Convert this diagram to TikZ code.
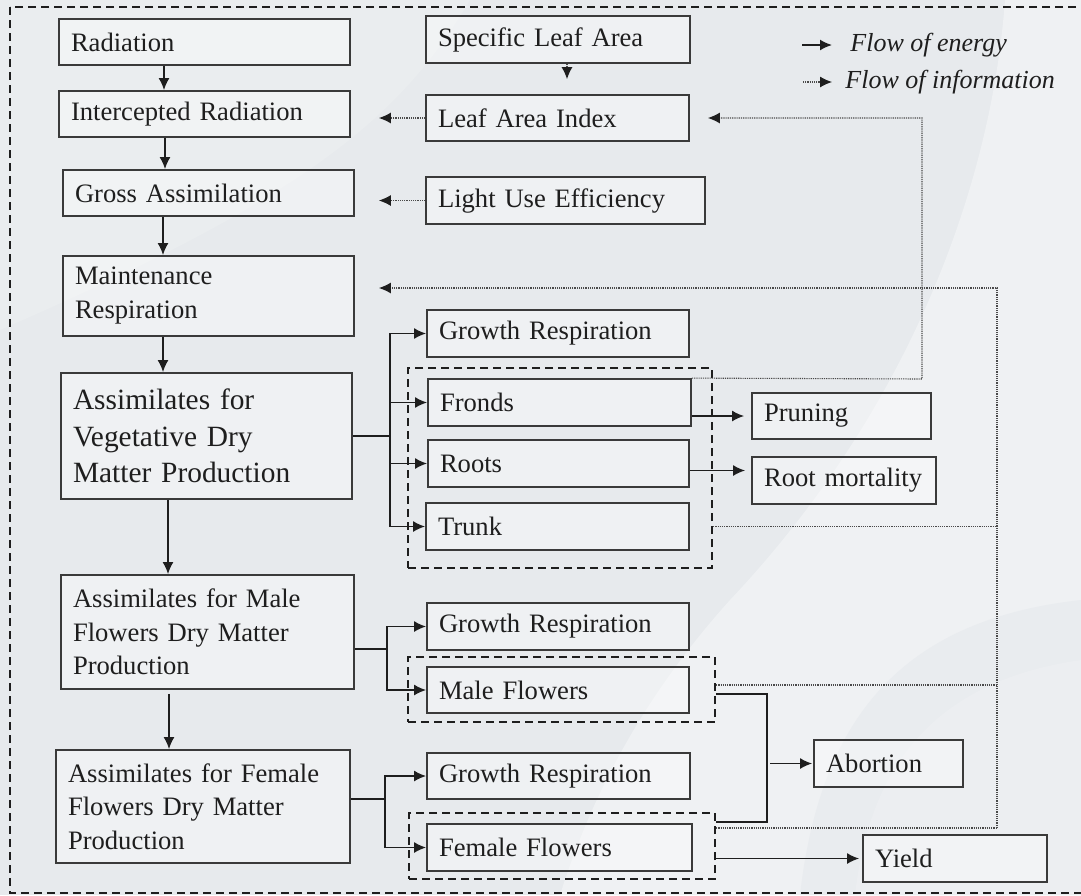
\documentclass[tikz,border=0pt]{standalone}
\usepackage{fontspec}
\setmainfont{Liberation Serif}
\usetikzlibrary{arrows.meta,calc}
\definecolor{bg}{HTML}{E7EAED}
\definecolor{bglight}{HTML}{EFF1F3}
\definecolor{boxline}{HTML}{3A3A3A}
\definecolor{ink}{HTML}{1E1E1E}
\definecolor{infoc}{HTML}{4A4A4A}
\tikzset{
  box/.style={draw=boxline, line width=0.9pt, fill=white, fill opacity=0.35, text opacity=1,
    inner xsep=6pt, inner ysep=0pt, align=left, font=\fontsize{13.3pt}{17pt}\selectfont, text=ink},
  grpframe/.style={draw=ink, line width=1.1pt, dash pattern=on 4pt off 2.5pt},
  eline/.style={draw=ink, line width=0.85pt},
  energy/.style={eline, -{Latex[length=6pt,width=5.5pt]}},
  iline/.style={draw=infoc, line width=0.55pt, dash pattern=on 0.6pt off 0.5pt},
  info/.style={iline, -{Latex[length=6pt,width=5.5pt,color=ink]}},
  legtext/.style={font=\fontsize{13pt}{15pt}\selectfont\itshape, text=ink, inner sep=0pt, anchor=west},
}
\begin{document}
\begin{tikzpicture}[x=0.5pt, y=-0.5pt]
\useasboundingbox (0,0) rectangle (1081,895);
% background
\fill[bg] (0,0) rectangle (1081,895);
\fill[bglight] (1005,0) .. controls (990,200) and (900,420) .. (730,600) .. controls (640,700) and (590,800) .. (560,895) -- (1081,895) -- (1081,0) -- cycle;
\fill[bg!60!bglight] (0,0) -- (470,0) .. controls (400,120) and (300,200) .. (0,330) -- cycle;
\fill[bg!70!bglight] (1081,600) .. controls (900,620) and (820,720) .. (800,895) -- (1081,895) -- cycle;
\fill[bglight!60!bg] (1081,660) .. controls (940,680) and (870,760) .. (855,895) -- (1081,895) -- cycle;

% outer frame
\draw[grpframe] (10,7) rectangle (1100,893);

% left column
\node[box, minimum width=145.5pt, minimum height=23pt, text width=133.5pt] (rad) at (204.5,42) {Radiation};
\node[box, minimum width=145.5pt, minimum height=23pt, text width=133.5pt] (intr) at (204.5,114) {Intercepted Radiation};
\node[box, minimum width=145.5pt, minimum height=23pt, text width=133.5pt] (gross) at (208.5,193) {Gross Assimilation};
\node[box, minimum width=145.5pt, minimum height=40pt, text width=133.5pt] (maint) at (208.5,296) {Maintenance\\Respiration};
\node[box, minimum width=145.5pt, minimum height=63pt, text width=133.5pt, font=\fontsize{14.7pt}{18.3pt}\selectfont] (veg) at (206.5,436) {Assimilates for\\Vegetative Dry\\Matter Production};
\node[box, minimum width=146.5pt, minimum height=57pt, text width=134.5pt, font=\fontsize{13.3pt}{16.7pt}\selectfont] (male) at (207.5,632) {Assimilates for Male\\Flowers Dry Matter\\Production};
\node[box, minimum width=147pt, minimum height=56.5pt, text width=135pt, font=\fontsize{13.3pt}{16.7pt}\selectfont] (female) at (203,806.5) {Assimilates for Female\\Flowers Dry Matter\\Production};

% right column
\node[box, minimum width=132pt, minimum height=23.5pt, text width=120pt] (sla) at (558,39.5) {Specific Leaf Area};
\node[box, minimum width=131.5pt, minimum height=23pt, text width=119.5pt] (lai) at (557.5,118) {Leaf Area Index};
\node[box, minimum width=139.5pt, minimum height=23.5pt, text width=127.5pt] (lue) at (565.5,200.5) {Light Use Efficiency};
\node[box, minimum width=131pt, minimum height=23.5pt, text width=119pt] (gr1) at (558,333.5) {Growth Respiration};
\node[box, minimum width=131.5pt, minimum height=23.5pt, text width=119.5pt] (fronds) at (559.5,402.5) {Fronds};
\node[box, minimum width=130.5pt, minimum height=23.5pt, text width=118.5pt] (roots) at (558.5,463.5) {Roots};
\node[box, minimum width=131.5pt, minimum height=23.5pt, text width=119.5pt] (trunk) at (557.5,526.5) {Trunk};
\node[box, minimum width=131pt, minimum height=23.5pt, text width=119pt] (gr2) at (558,626.5) {Growth Respiration};
\node[box, minimum width=131pt, minimum height=23pt, text width=119pt] (malefl) at (558,690) {Male Flowers};
\node[box, minimum width=131.5pt, minimum height=23pt, text width=119.5pt] (gr3) at (558.5,776) {Growth Respiration};
\node[box, minimum width=132.5pt, minimum height=23.5pt, text width=120.5pt] (femfl) at (559.5,847.5) {Female Flowers};

% group frames
\node[grpframe, minimum width=152pt, minimum height=100pt, inner sep=0pt] (grp1) at (560,468) {};
\node[grpframe, minimum width=153.5pt, minimum height=32.5pt, inner sep=0pt] (grp2) at (561.5,689.5) {};
\node[grpframe, minimum width=153pt, minimum height=33pt, inner sep=0pt] (grp3) at (562,846) {};

% outputs
\node[box, minimum width=89.5pt, minimum height=23pt, text width=77.5pt] (pruning) at (841.5,416) {Pruning};
\node[box, minimum width=92pt, minimum height=23.5pt, text width=80pt] (rootmort) at (844,480.5) {Root mortality};
\node[box, minimum width=74.5pt, minimum height=23.5pt, text width=62.5pt] (abortion) at (888.5,763.5) {Abortion};
\node[box, minimum width=92pt, minimum height=23.5pt, text width=80pt] (yield) at (955,858.5) {Yield};

% legend
\coordinate (la1) at (802,45); \coordinate (la2) at (832,45);
\coordinate (lb1) at (803,82); \coordinate (lb2) at (832,82);
\draw[energy] (la1) -- (la2);
\draw[info] (lb1) -- (lb2);
\node[legtext] (leg1) at (850,45) {Flow of energy};
\node[legtext] (leg2) at (845,82) {Flow of information};

% main vertical energy arrows
\coordinate (c1) at (164,0); \coordinate (c2) at (165,0); \coordinate (c3) at (163,0);
\coordinate (c4) at (168,0); \coordinate (c5) at (169,0);
\draw[energy] (rad.south -| c1) -- (intr.north -| c1);
\draw[energy] (intr.south -| c2) -- (gross.north -| c2);
\draw[energy] (gross.south -| c3) -- (maint.north -| c3);
\draw[energy] (maint.south -| c3) -- (veg.north -| c3);
\draw[energy] (veg.south -| c4) -- (male.north -| c4);
\draw[energy, shorten <=2pt] (male.south -| c5) -- (female.north -| c5);

% vegetative branches
\coordinate (vj) at (390,436);
\draw[eline] (veg.east) -- (vj);
\draw[energy] (vj) |- (gr1.west);
\draw[energy] (vj) |- (fronds.west);
\draw[energy] (vj) |- (roots.west);
\draw[energy] (vj) |- (trunk.west);

% male branches
\coordinate (mj) at (387,649);
\draw[eline] (mj -| male.east) -- (mj);
\draw[energy] (mj) |- (gr2.west);
\draw[energy] (mj) |- (malefl.west);

% female branches
\coordinate (fj) at (385,799);
\draw[eline] (fj -| female.east) -- (fj);
\draw[energy] (fj) |- (gr3.west);
\draw[energy] (fj) |- (femfl.west);

% losses
\draw[energy, shorten >=3.5pt] (fronds.east |- pruning.west) -- (pruning.west);
\coordinate (rm) at ([yshift=5pt]rootmort.west);
\draw[energy, shorten >=3pt] (roots.east |- rm) -- (rm);

% abortion
\coordinate (ab1) at (767,694); \coordinate (ab2) at (767,822);
\draw[eline] (ab1 -| grp2.east) -- (ab1) -- (ab2) -- (ab2 -| grp3.east);
\draw[energy, shorten <=1.5pt, shorten >=0.5pt] (ab1 |- abortion.west) -- (abortion.west);

% yield
\draw[energy, shorten >=1.5pt] (grp3.east |- yield.west) -- (yield.west);

% information flows
\coordinate (s1) at (567,0);
\draw[info, shorten >=7.5pt] (sla.south -| s1) -- (lai.north -| s1);
\draw[info, shorten >=14pt] (lai.west) -- (lai.west -| intr.east);
\draw[info, shorten >=12pt] (lue.west) -- (lue.west -| gross.east);
\coordinate (f1) at (922,379);
\draw[info, shorten >=9pt] (fronds.north east) -- (f1) -- (f1 |- lai.east) -- (lai.east);
\coordinate (f2) at (997,288); \coordinate (f3) at (997,828); \coordinate (mi) at (997,685);
\draw[info, shorten >=12pt] (f3) -- (f2) -- (f2 -| maint.east);
\draw[iline] (trunk.east -| grp1.east) -- (trunk.east -| f2);
\draw[iline] (mi -| grp2.east) -- (mi);
\draw[iline] (f3 -| grp3.east) -- (f3);
\end{tikzpicture}
\end{document}
